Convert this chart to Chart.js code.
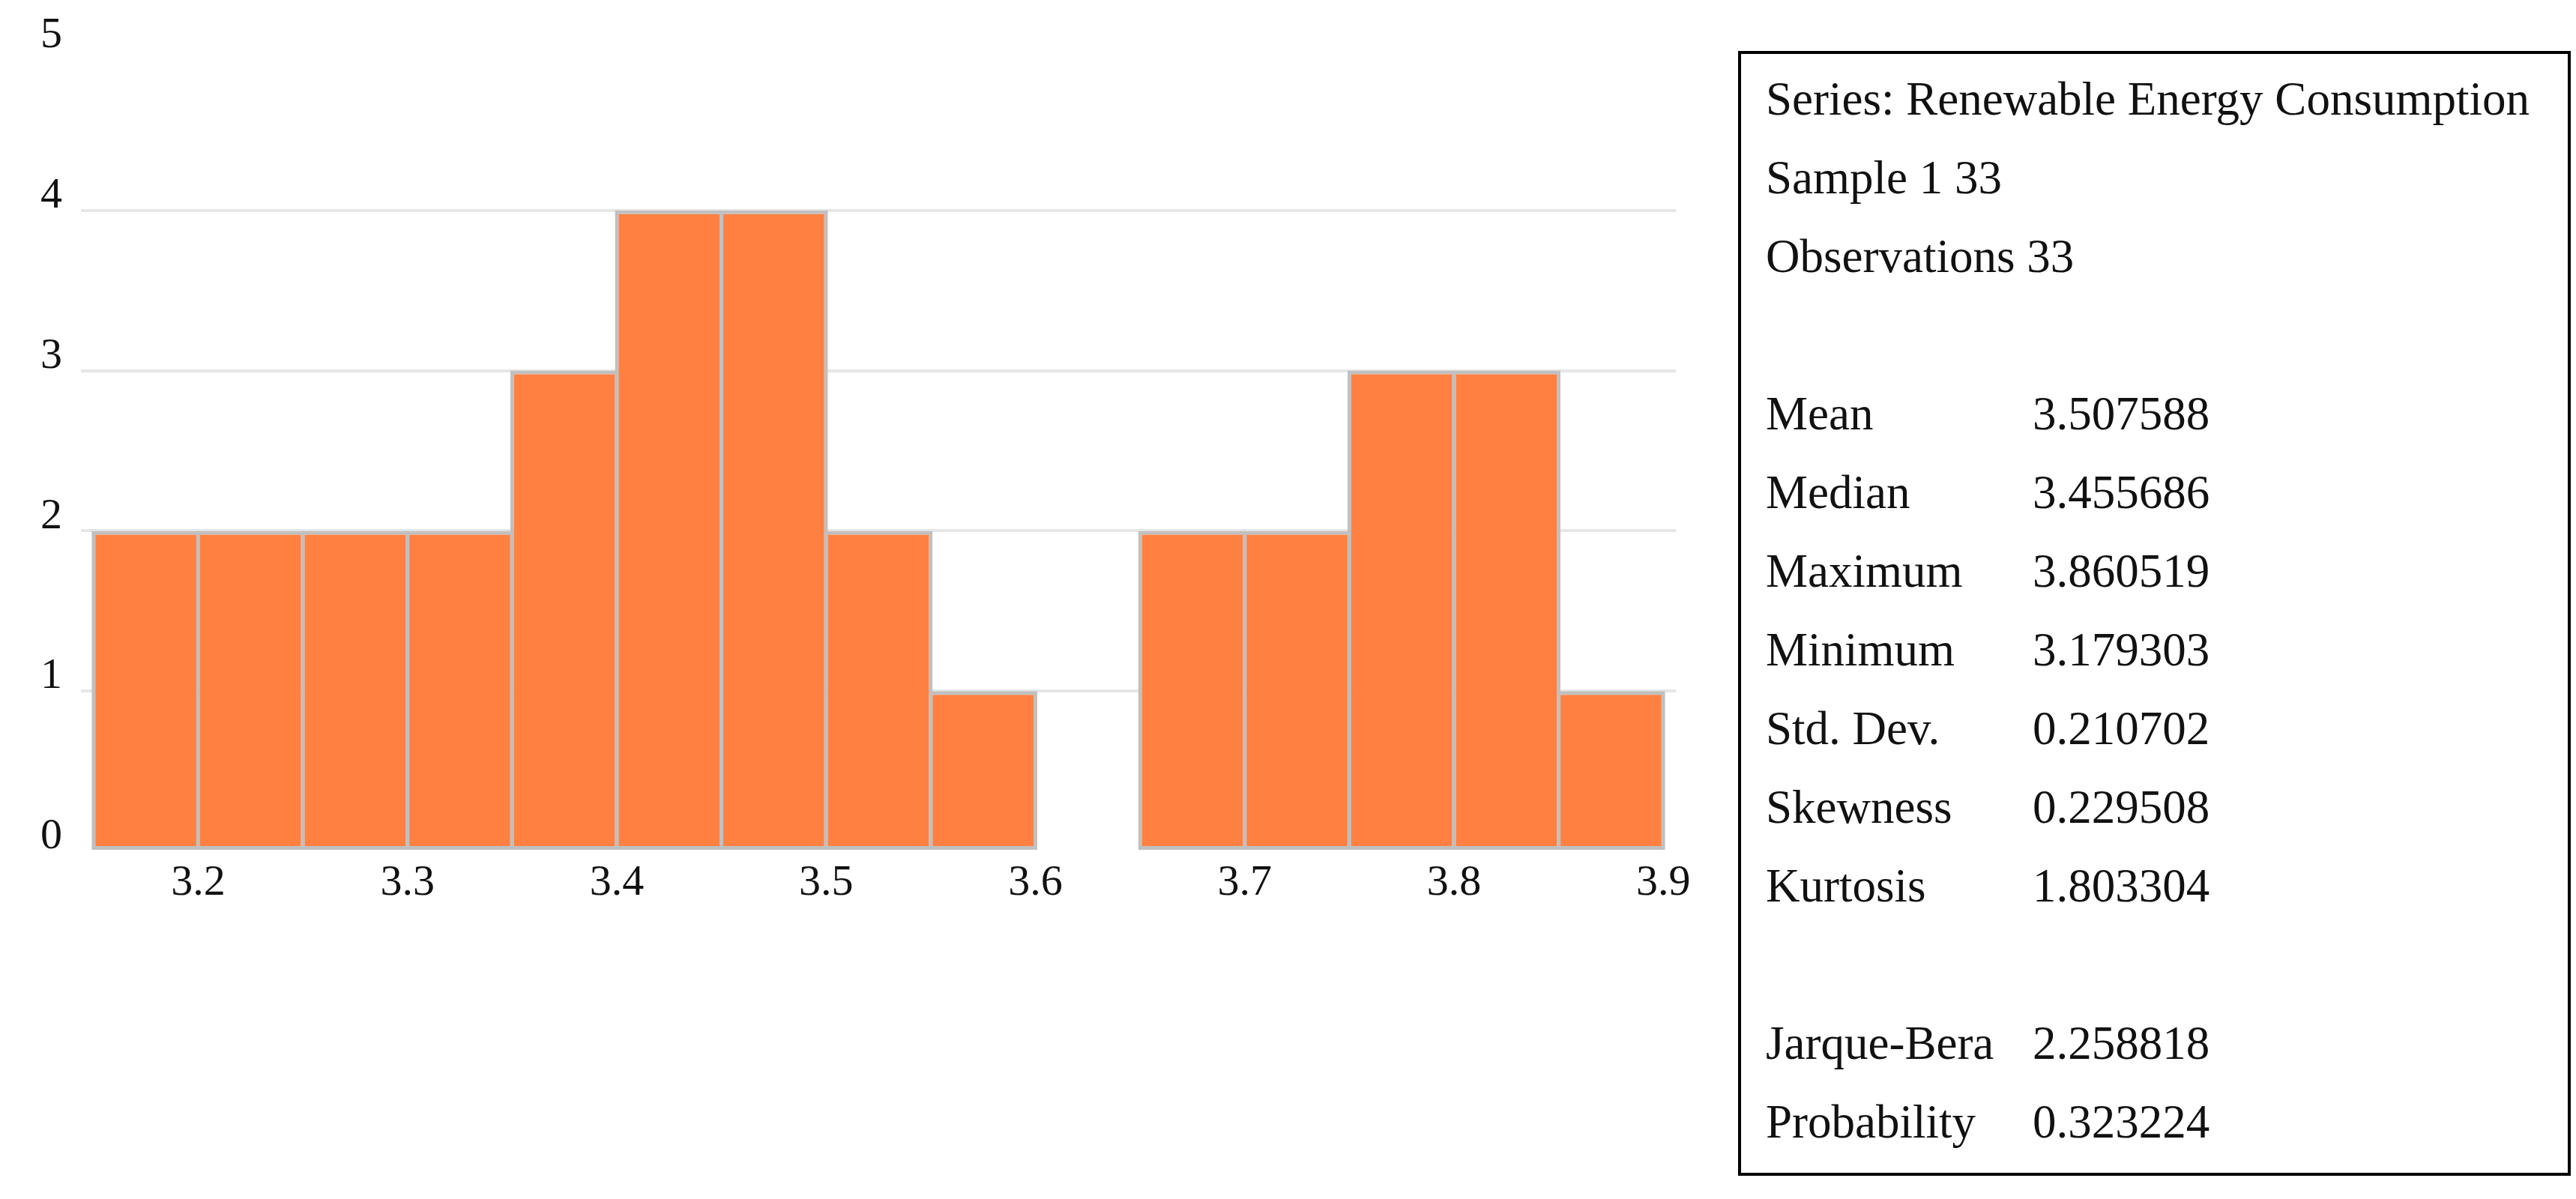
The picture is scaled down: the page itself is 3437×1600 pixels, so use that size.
<!DOCTYPE html>
<html>
<head>
<meta charset="utf-8">
<script src="https://cdn.jsdelivr.net/npm/chart.js@4.4.1/dist/chart.umd.min.js"></script>
<style>
  html, body { margin: 0; padding: 0; background: #fff; }
  #wrap { position: absolute; left: 0; top: 0; width: 2300px; height: 1600px; }
  #stats {
    position: absolute; left: 2319px; top: 68px; width: 1111px; height: 1501px;
    box-sizing: border-box; border: 4px solid #000;
    padding: 8px 0 0 33px;
    font-family: "Liberation Serif", "DejaVu Serif", serif; font-size: 63px; color: #111;
    white-space: nowrap; overflow: hidden;
  }
  #stats div { height: 105px; line-height: 105px; }
  #stats span.k { display: inline-block; width: 356px; }
</style>
</head>
<body>
<div id="wrap"><canvas id="hist"></canvas></div>
<div id="stats"></div>

<script>
// histogram bins (centres of 0.05-wide bins) and counts
var binCenters = [3.175, 3.225, 3.275, 3.325, 3.375, 3.425, 3.475, 3.525, 3.575, 3.625, 3.675, 3.725, 3.775, 3.825, 3.875];
var counts     = [2, 2, 2, 2, 3, 4, 4, 2, 1, 0, 2, 2, 3, 3, 1];

// axis ticks
var xTicks = [3.2, 3.3, 3.4, 3.5, 3.6, 3.7, 3.8, 3.9];
var yTicks = [0, 1, 2, 3, 4, 5];

// descriptive statistics panel
var seriesName = "Series: Renewable Energy Consumption";
var sampleText = "Sample 1 33";
var obsText = "Observations 33";
var statLabels = ["Mean", "Median", "Maximum", "Minimum", "Std. Dev.", "Skewness", "Kurtosis"];
var statValues = ["3.507588", "3.455686", "3.860519", "3.179303", "0.210702", "0.229508", "1.803304"];
var testLabels = ["Jarque-Bera", "Probability"];
var testValues = ["2.258818", "0.323224"];

// build the stats box
var box = document.getElementById("stats");
function addRow(k, v) {
    var d = document.createElement("div");
    if (v === undefined) {
        d.textContent = k;
    } else {
        var a = document.createElement("span");
        a.className = "k";
        a.textContent = k;
        var b = document.createElement("span");
        b.textContent = v;
        d.appendChild(a);
        d.appendChild(b);
    }
    box.appendChild(d);
}
addRow(seriesName);
addRow(sampleText);
addRow(obsText);
addRow("\u00a0");
statLabels.forEach(function (k, i) { addRow(k, statValues[i]); });
addRow("\u00a0");
testLabels.forEach(function (k, i) { addRow(k, testValues[i]); });

// chart
var tickFont = { family: "'Liberation Serif', 'DejaVu Serif', serif", size: 58 };

var ctx = document.getElementById("hist").getContext("2d");
var chart = new Chart(ctx, {
    type: "bar",
    data: {
        datasets: [{
            data: binCenters.map(function (x, i) { return { x: x, y: counts[i] }; }),
            backgroundColor: "rgb(255,128,65)",
            borderColor: "rgb(192,192,192)",
            borderWidth: 5,
            borderSkipped: false,
            barPercentage: 1.036,
            categoryPercentage: 1
        }]
    },
    options: {
        responsive: true,
        maintainAspectRatio: false,
        animation: false,
        layout: { padding: { top: 67, right: 64, bottom: 0, left: 0 } },
        plugins: {
            legend: { display: false },
            tooltip: { enabled: false }
        },
        scales: {
            x: {
                type: "linear",
                offset: false,
                min: 3.144,
                max: 3.906,
                grid: { display: false, drawTicks: false },
                border: { display: false },
                afterBuildTicks: function (s) {
                    s.ticks = xTicks.map(function (v) { return { value: v }; });
                },
                afterFit: function (s) { s.height = 464; },
                ticks: {
                    color: "#111",
                    font: tickFont,
                    padding: 8,
                    maxRotation: 0,
                    autoSkip: false,
                    callback: function (v) { return v.toFixed(1); }
                }
            },
            y: {
                min: 0,
                max: 5,
                grid: {
                    drawTicks: false,
                    lineWidth: 4,
                    color: function (c) {
                        var v = c.tick ? c.tick.value : null;
                        return (v === 0 || v === 5) ? "rgba(0,0,0,0)" : "rgb(230,230,230)";
                    }
                },
                border: { display: false },
                afterBuildTicks: function (s) {
                    s.ticks = yTicks.map(function (v) { return { value: v }; });
                },
                afterFit: function (s) { s.width = 108; },
                ticks: {
                    color: "#111",
                    font: tickFont,
                    padding: 25,
                    labelOffset: -19
                }
            }
        }
    }
});
</script>
</body>
</html>
